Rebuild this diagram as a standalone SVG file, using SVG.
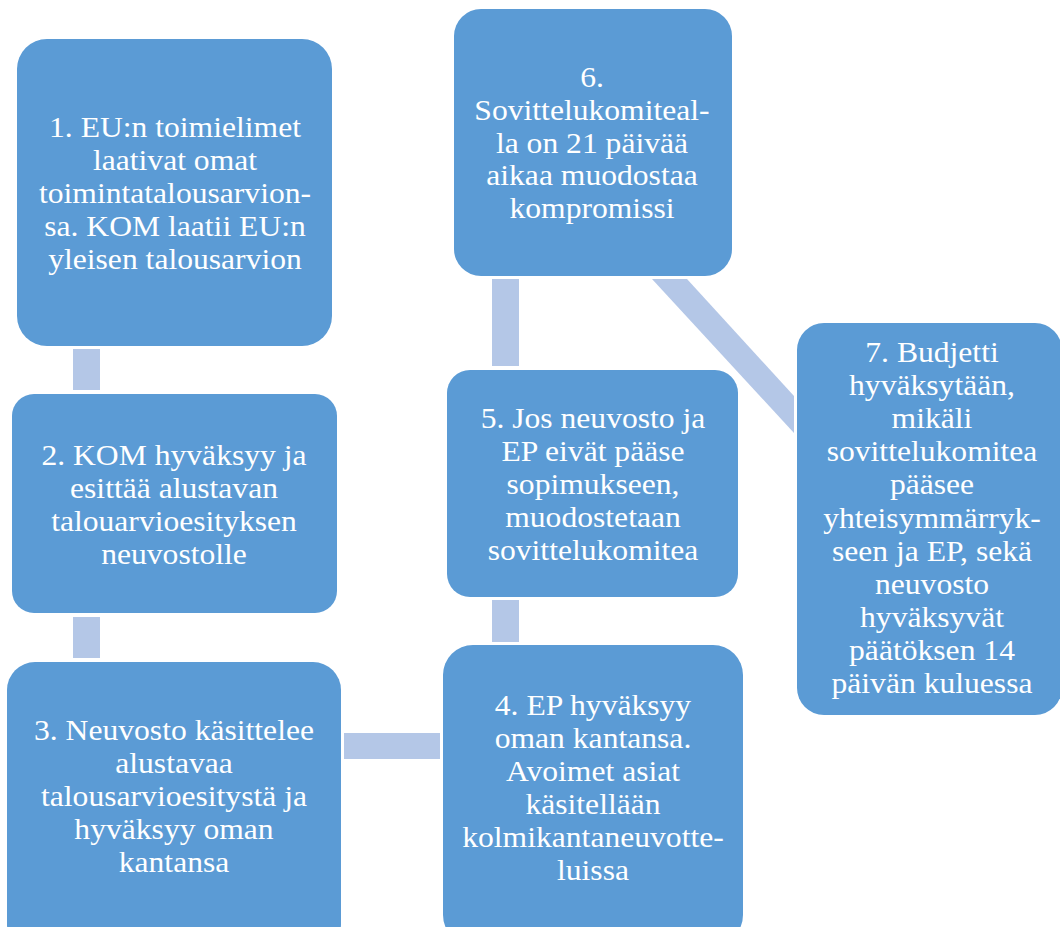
<svg xmlns="http://www.w3.org/2000/svg" width="1060" height="927" viewBox="0 0 1060 927">
<style>
.box{fill:#5B9BD5;}
.con{fill:#B4C7E7;}
.t{font-family:'Liberation Serif','Times New Roman',serif;font-size:29px;fill:#FFFFFF;text-anchor:middle;}
</style>
<rect width="1060" height="927" fill="#FFFFFF"/>
<g id="connectors">
<rect class="con" x="73" y="349" width="27" height="41"/>
<rect class="con" x="73" y="617" width="27" height="41"/>
<rect class="con" x="344" y="733" width="96" height="26"/>
<rect class="con" x="492" y="600" width="27" height="42"/>
<rect class="con" x="492" y="279" width="27" height="87"/>
<polygon class="con" points="652,279 687,279 794,396 794,433"/>
</g>
<g id="node1">
<rect class="box" x="17" y="39" width="315" height="307" rx="30"/>
<g class="t" transform="translate(175 0) scale(1.09 1)">
<text x="0" y="137">1. EU:n toimielimet</text>
<text x="0" y="170">laativat omat</text>
<text x="0" y="203">toimintatalousarvion-</text>
<text x="0" y="236">sa. KOM laatii EU:n</text>
<text x="0" y="269">yleisen talousarvion</text>
</g>
</g>
<g id="node2">
<rect class="box" x="12" y="394" width="325" height="219" rx="22"/>
<g class="t" transform="translate(174 0) scale(1.09 1)">
<text x="0" y="465">2. KOM hyväksyy ja</text>
<text x="0" y="498">esittää alustavan</text>
<text x="0" y="531">talouarvioesityksen</text>
<text x="0" y="564">neuvostolle</text>
</g>
</g>
<g id="node3">
<rect class="box" x="7" y="662" width="334" height="290" rx="28"/>
<g class="t" transform="translate(174 0) scale(1.09 1)">
<text x="0" y="740">3. Neuvosto käsittelee</text>
<text x="0" y="773">alustavaa</text>
<text x="0" y="806">talousarvioesitystä ja</text>
<text x="0" y="839">hyväksyy oman</text>
<text x="0" y="872">kantansa</text>
</g>
</g>
<g id="node4">
<rect class="box" x="443" y="645" width="300" height="300" rx="30"/>
<g class="t" transform="translate(593 0) scale(1.09 1)">
<text x="0" y="715">4. EP hyväksyy</text>
<text x="0" y="748">oman kantansa.</text>
<text x="0" y="781">Avoimet asiat</text>
<text x="0" y="814">käsitellään</text>
<text x="0" y="847">kolmikantaneuvotte-</text>
<text x="0" y="880">luissa</text>
</g>
</g>
<g id="node5">
<rect class="box" x="447" y="370" width="291" height="227" rx="23"/>
<g class="t" transform="translate(593 0) scale(1.09 1)">
<text x="0" y="428">5. Jos neuvosto ja</text>
<text x="0" y="461">EP eivät pääse</text>
<text x="0" y="494">sopimukseen,</text>
<text x="0" y="527">muodostetaan</text>
<text x="0" y="560">sovittelukomitea</text>
</g>
</g>
<g id="node6">
<rect class="box" x="454" y="9" width="278" height="267" rx="27"/>
<g class="t" transform="translate(592 0) scale(1.09 1)">
<text x="0" y="87">6.</text>
<text x="0" y="120">Sovittelukomiteal-</text>
<text x="0" y="153">la on 21 päivää</text>
<text x="0" y="185">aikaa muodostaa</text>
<text x="0" y="218">kompromissi</text>
</g>
</g>
<g id="node7">
<rect class="box" x="797" y="323" width="265" height="392" rx="27"/>
<g class="t" transform="translate(932 0) scale(1.09 1)">
<text x="0" y="362">7. Budjetti</text>
<text x="0" y="395">hyväksytään,</text>
<text x="0" y="428">mikäli</text>
<text x="0" y="461">sovittelukomitea</text>
<text x="0" y="494">pääsee</text>
<text x="0" y="528">yhteisymmärryk-</text>
<text x="0" y="561">seen ja EP, sekä</text>
<text x="0" y="594">neuvosto</text>
<text x="0" y="627">hyväksyvät</text>
<text x="0" y="660">päätöksen 14</text>
<text x="0" y="693">päivän kuluessa</text>
</g>
</g>
</svg>
